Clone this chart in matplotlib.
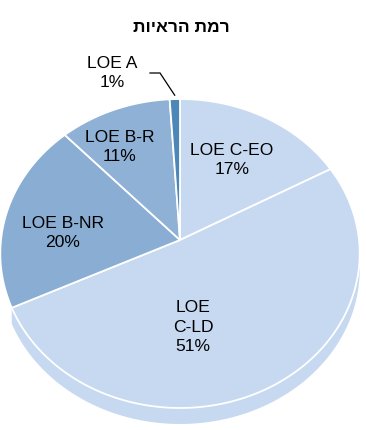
import numpy as np
import matplotlib
matplotlib.use("Agg")
import matplotlib.pyplot as plt
from matplotlib.transforms import Transform
from matplotlib.path import Path

plt.rcParams['font.family'] = ['Liberation Sans', 'DejaVu Sans']

# ---- data (clockwise from 12 o'clock) ----
title = "רמת הראיות"
categories = ["LOE C-EO", "LOE\nC-LD", "LOE B-NR", "LOE B-R", "LOE A"]
values = [17, 51, 20, 11, 1]
colors = ["#C6D9F0", "#C6D9F0", "#8AADD3", "#8FB1D6", "#4D87B8"]

# ---- layout ----
CX, CY = 180.0, 240.0      # pixel position of pie apex
RX, RY = 179.0, 153.3      # radii
K = 0.0874                 # perspective strength
DEPTH = 16.0


class Persp(Transform):
    input_dims = 2
    output_dims = 2
    is_separable = False
    has_inverse = False

    def __init__(self, dz=0.0):
        super().__init__()
        self._dz = dz

    def transform_non_affine(self, values):
        v = np.asarray(values, float).reshape(-1, 2)
        x, y = v[:, 0], v[:, 1]
        w = 1.0 + K * y
        return np.column_stack([CX + RX * x / w, CY + self._dz - RY * y / w])

    def transform_path_non_affine(self, path):
        pts = []
        for bez, code in path.iter_bezier():
            cp = bez.control_points
            if len(cp) == 1:
                pts.append(cp[0])
            elif len(cp) == 2:
                pts.append(cp[1])
            else:
                t = np.linspace(0, 1, 41)[1:]
                pts.extend(bez(t))
        pts = np.asarray(pts)
        return Path(self.transform_non_affine(pts))


fig = plt.figure(figsize=(3.66, 4.30), dpi=100)
ax = fig.add_axes([0, 0, 1, 1])

top = Persp(0.0)
low = Persp(DEPTH)

# side (depth) of the pie, only for slices facing the viewer
bounds = np.concatenate([[0], np.cumsum(values)]) / np.sum(values) * 360.0
for i, col in enumerate(colors):
    midang = (bounds[i] + bounds[i + 1]) / 2
    if not (90 < midang < 270):
        continue
    th = np.radians(np.linspace(bounds[i], bounds[i + 1], 120))
    pts = np.column_stack([np.sin(th), np.cos(th)])
    ptop = top.transform(pts)
    plow = low.transform(pts)
    poly = np.vstack([ptop, plow[::-1]])
    ax.fill(poly[:, 0], poly[:, 1], color=col, lw=0, zorder=1)

wedges, _ = ax.pie(values, colors=colors, startangle=90, counterclock=False,
                   radius=1, center=(0, 0),
                   wedgeprops=dict(edgecolor="white", linewidth=1.3))
for w in wedges:
    w.set_transform(top + ax.transData)
    w.set_zorder(2)

ax.set_aspect('auto')
ax.set_xlim(0, 366)
ax.set_ylim(430, 0)
ax.axis('off')

# labels
pcts = [f"{v}%" for v in values]
label_pos = [(232, 160), (193, 327), (63, 233), (120, 147), (112, 73)]
for cat, pct, (x, y) in zip(categories, pcts, label_pos):
    ax.text(x, y, f"{cat}\n{pct}", ha="center", va="center", fontsize=12.6,
            linespacing=1.35, color="black", zorder=5)

# leader line for smallest slice
mid = np.radians((bounds[-2] + bounds[-1]) / 2)
end = top.transform(np.array([[np.sin(mid) * 1.03, np.cos(mid) * 1.03]]))[0]
ax.plot([150, 160, end[0]], [73, 73, end[1]], color="black", lw=0.9, zorder=5,
        solid_joinstyle='miter')

# title (visual order for RTL)
ax.text(181, 28, title[::-1], ha="center", va="center", fontsize=12.5,
        fontweight="bold", color="black")

fig.savefig("out.png", dpi=100)
